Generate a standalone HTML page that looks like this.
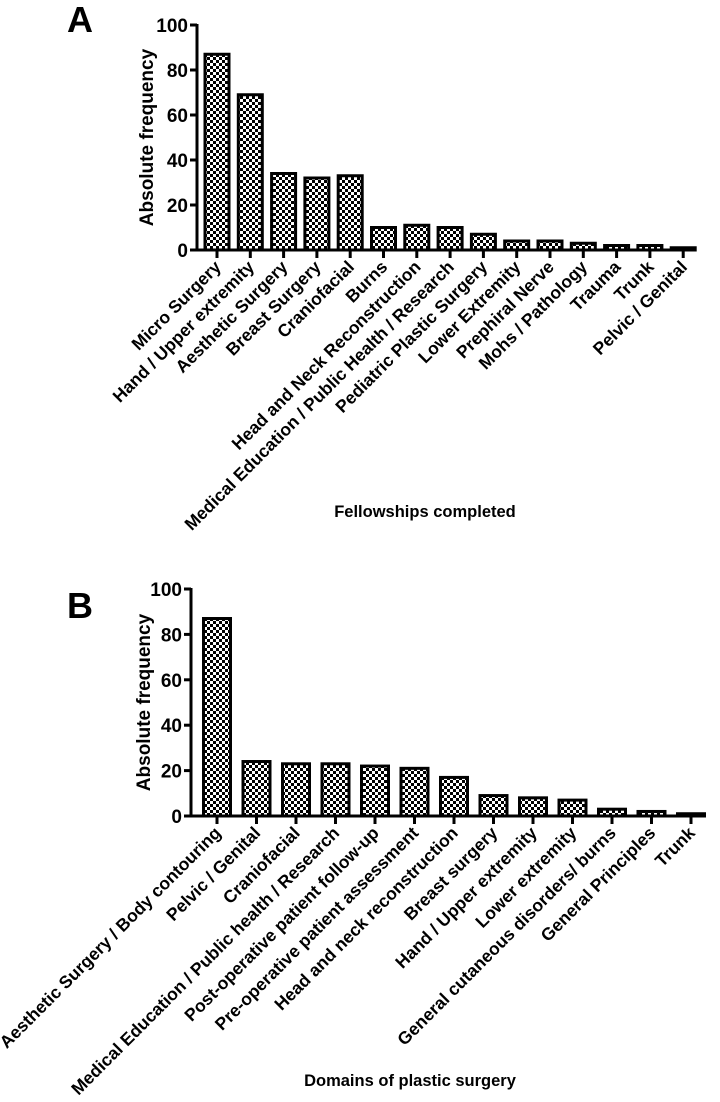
<!DOCTYPE html>
<html><head><meta charset="utf-8"><style>
body{margin:0;background:#fff;}
svg text{font-family:"Liberation Sans",Arial,sans-serif;font-weight:bold;fill:#000;}
</style></head><body>
<svg id="c" width="720" height="1097" xmlns="http://www.w3.org/2000/svg">
<defs>
<pattern id="chk" width="6" height="6" patternUnits="userSpaceOnUse">
<rect width="6" height="6" fill="#fff"/><rect width="3" height="3" fill="#000"/><rect x="3" y="3" width="3" height="3" fill="#000"/>
</pattern>
</defs>
<text x="67" y="32" font-size="36">A</text>
<text x="67" y="618" font-size="36">B</text>
<g id="ga"></g><g id="gb"></g>
</svg>
<script>
const catsA=["Micro Surgery","Hand / Upper extremity","Aesthetic Surgery","Breast Surgery","Craniofacial","Burns","Head and Neck Reconstruction","Medical Education / Public Health / Research","Pediatric Plastic Surgery","Lower Extremity","Prephiral Nerve","Mohs / Pathology","Trauma","Trunk","Pelvic / Genital"];
const valsA=[87,69,34,32,33,10,11,10,7,4,4,3,2,2,1];
const catsB=["Aesthetic Surgery / Body contouring","Pelvic / Genital","Craniofacial","Medical Education / Public health / Research","Post-operative patient follow-up","Pre-operative patient assessment","Head and neck reconstruction","Breast surgery","Hand / Upper extremity","Lower extremity","General cutaneous disorders/ burns","General Principles","Trunk"];
const valsB=[87,24,23,23,22,21,17,9,8,7,3,2,1];
const ticks=[0,20,40,60,80,100];
const NS="http://www.w3.org/2000/svg";
function mk(p,t,a){const e=document.createElementNS(NS,t);for(const k in a)e.setAttribute(k,a[k]);p.appendChild(e);return e;}
function chart(g,cats,vals,o){
  const y=v=>o.y0-(o.y0-o.y100)*v/100;
  const x=i=>o.x0+o.step*i;
  ticks.forEach(t=>{
    const l=mk(g,'line',{x1:o.ax-7,x2:o.ax,y1:y(t),y2:y(t),stroke:'#000','stroke-width':3});
    
    
    const tx=mk(g,'text',{x:o.ax-9,y:y(t)+7,'font-size':19,'text-anchor':'end'});tx.textContent=t;
    
    
  });
  cats.forEach((c,i)=>{
    const r=mk(g,'rect',{x:x(i)-o.bw/2,y:y(vals[i]),width:o.bw,height:o.y0-y(vals[i]),fill:'url(#chk)',stroke:'#000','stroke-width':3});
    
    
    const tk=mk(g,'line',{x1:x(i),x2:x(i),y1:o.y0,y2:o.y0+8,stroke:'#000','stroke-width':3});
    
    
    const tx=mk(g,'text',{x:x(i)+5,y:o.y0+18,'font-size':17.5,'text-anchor':'end',transform:`rotate(-45 ${x(i)+5} ${o.y0+18})`});tx.textContent=c;
    
    
  });
  const ya=mk(g,'line',{x1:o.ax,x2:o.ax,y1:o.y100-1,y2:o.y0+1.5,stroke:'#000','stroke-width':3});
  
  
  const xa=mk(g,'line',{x1:o.ax,x2:o.xend,y1:o.y0,y2:o.y0,stroke:'#000','stroke-width':3});
  
  
  const yt=mk(g,'text',{x:o.ytx,y:(o.y0+o.y100)/2,'font-size':19,'text-anchor':'middle',transform:`rotate(-90 ${o.ytx} ${(o.y0+o.y100)/2})`});yt.textContent='Absolute frequency';
  
  
  const xt=mk(g,'text',{x:o.xtx,y:o.xty,'font-size':16.5,'text-anchor':'middle'});xt.textContent=o.xtitle;
  
  
}
chart(document.getElementById('ga'),catsA,valsA,{ax:197,y0:250,y100:25,x0:217,step:33.3,bw:24,xend:694,ytx:153,xtx:425,xty:517,xtitle:'Fellowships completed'});
chart(document.getElementById('gb'),catsB,valsB,{ax:191,y0:816,y100:589,x0:217,step:39.5,bw:27,xend:704,ytx:150,xtx:410,xty:1086,xtitle:'Domains of plastic surgery'});
</script>
</body></html>
